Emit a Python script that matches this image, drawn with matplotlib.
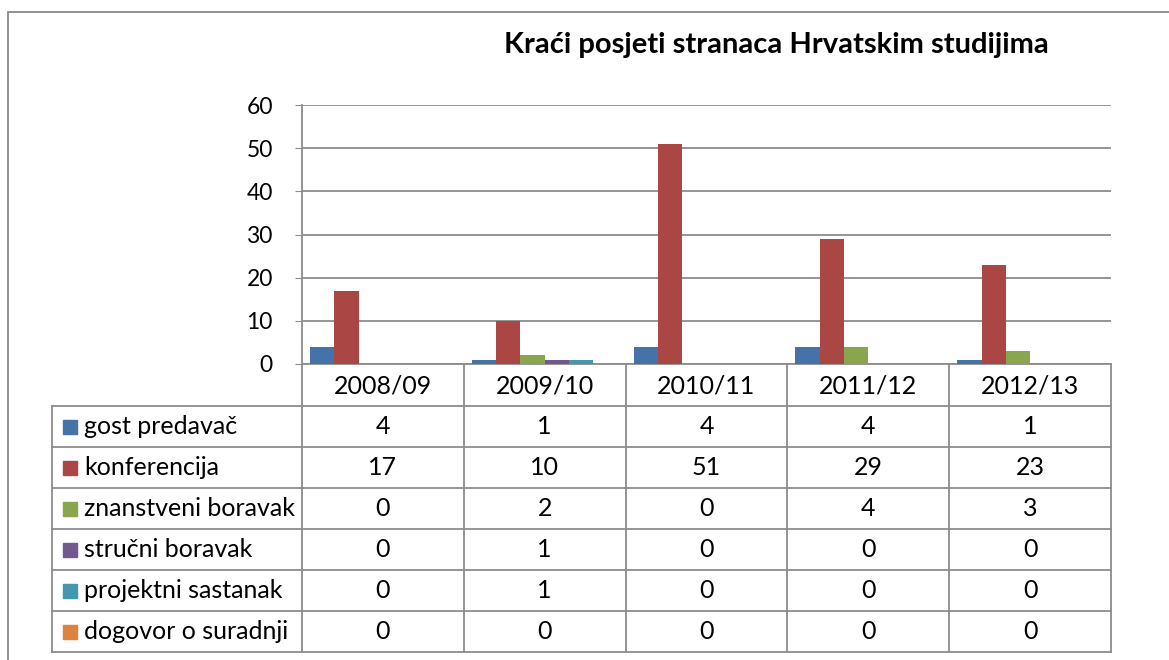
import matplotlib.pyplot as plt
from matplotlib.patches import Rectangle
from matplotlib.lines import Line2D

plt.rcParams['font.family'] = ['Lato', 'DejaVu Sans']

years = ['2008/09', '2009/10', '2010/11', '2011/12', '2012/13']
series = ['gost predavač', 'konferencija', 'znanstveni boravak',
          'stručni boravak', 'projektni sastanak', 'dogovor o suradnji']
gost = [4, 1, 4, 4, 1]
konf = [17, 10, 51, 29, 23]
znan = [0, 2, 0, 4, 3]
strucni = [0, 1, 0, 0, 0]
projekt = [0, 1, 0, 0, 0]
dogovor = [0, 0, 0, 0, 0]
values = [gost, konf, znan, strucni, projekt, dogovor]
colors = ['#4572A7', '#AA4643', '#89A54E', '#71588F', '#4198AF', '#DB843D']

W, H = 1169, 660
fig = plt.figure(figsize=(W / 100, H / 100), dpi=100)

def fx(px):
    return px / W

def fy(py):
    return 1 - py / H

grid_c = '#8c8c8c'

# outer chart border (cut by the image edge on the right/bottom)
fig.patches.append(Rectangle((fx(8), fy(700)), fx(1200) - fx(8), fy(12) - fy(700),
                             transform=fig.transFigure, fill=False,
                             edgecolor='#8a8a8a', lw=1.3, clip_on=False))

# plot area
x0, x1, ytop, ybot = 302, 1111, 105, 364
ax = fig.add_axes([fx(x0), fy(ybot), fx(x1) - fx(x0), fy(ytop) - fy(ybot)])
n = len(series)
bw = 0.15
for i, (name, vals) in enumerate(zip(series, values)):
    pos = [k + (i - (n - 1) / 2) * bw for k in range(len(years))]
    ax.bar(pos, vals, width=bw, color=colors[i], zorder=3)

ax.set_xlim(-0.5, len(years) - 0.5)
ax.set_ylim(0, 60)
ax.set_yticks(range(0, 61, 10))
ax.yaxis.grid(True, color=grid_c, lw=1.3, zorder=0)
ax.set_xticks([])
for s in ['top', 'right']:
    ax.spines[s].set_visible(False)
ax.spines['left'].set_color(grid_c)
ax.spines['left'].set_linewidth(1.3)
ax.spines['bottom'].set_color(grid_c)
ax.spines['bottom'].set_linewidth(1.3)
ax.tick_params(axis='y', length=5, color=grid_c, labelsize=16.5, pad=16)

fig.text(fx(776), fy(45), 'Kraći posjeti stranaca Hrvatskim studijima',
         ha='center', va='center', fontsize=21, fontweight='bold')

# data table below the axis
row_h = 41
col_w = (x1 - x0) / len(years)
hdr_bot = ybot + 42
tab_bot = hdr_bot + row_h * n
left = 52
fs = 18

def hline(xa, xb, y):
    fig.lines.append(Line2D([fx(xa), fx(xb)], [fy(y), fy(y)], transform=fig.transFigure,
                            color=grid_c, lw=1.3))

def vline(x, ya, yb):
    fig.lines.append(Line2D([fx(x), fx(x)], [fy(ya), fy(yb)], transform=fig.transFigure,
                            color=grid_c, lw=1.3))

for k in range(len(years) + 1):
    vline(x0 + k * col_w, ybot, tab_bot)
vline(left, hdr_bot, tab_bot)
for r in range(n + 1):
    hline(left, x1, hdr_bot + r * row_h)

for k, yr in enumerate(years):
    fig.text(fx(x0 + (k + 0.5) * col_w), fy(ybot + 22), yr, ha='center', va='center',
             fontsize=fs)

for i, (name, vals) in enumerate(zip(series, values)):
    yc = hdr_bot + (i + 0.5) * row_h
    fig.patches.append(Rectangle((fx(63), fy(yc + 7)), fx(14), fy(0) - fy(14),
                                 transform=fig.transFigure, color=colors[i]))
    fig.text(fx(84), fy(yc), name, ha='left', va='center', fontsize=fs)
    for k, v in enumerate(vals):
        fig.text(fx(x0 + (k + 0.5) * col_w), fy(yc), str(v), ha='center', va='center',
                 fontsize=fs)

fig.savefig('out.png', dpi=100)
